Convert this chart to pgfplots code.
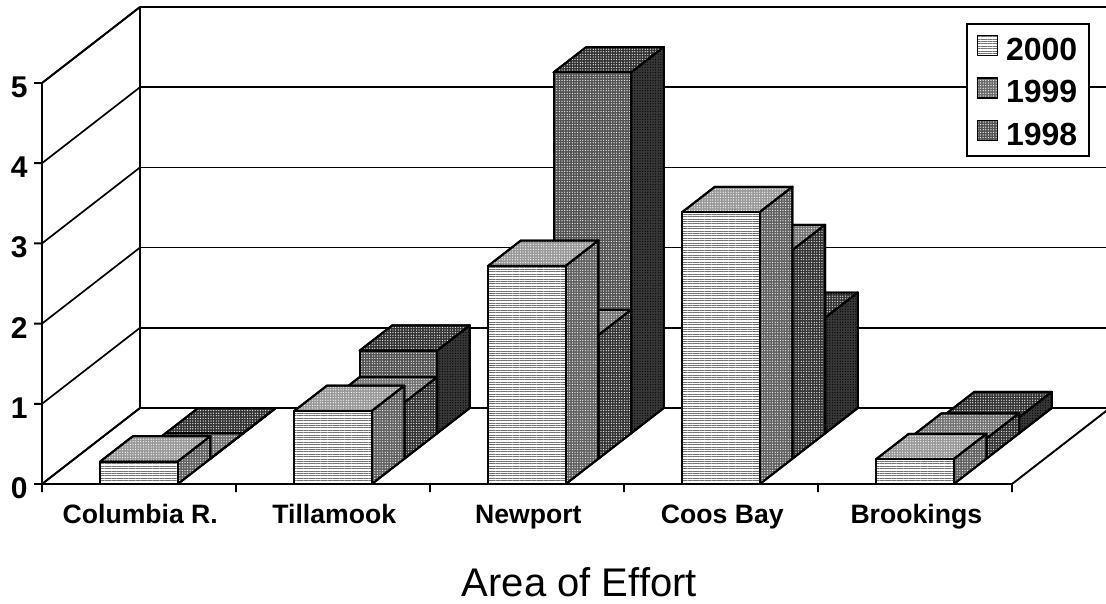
\documentclass[border=0pt]{standalone}
\usepackage{fontspec}
\setmainfont{Liberation Sans}
\usepackage{pgfplots}
\pgfplotsset{compat=1.18}
\usetikzlibrary{patterns.meta}
% x0 x1 y0 y1 h front side top
\newcommand{\Bar}[8]{%
  \addplot3[forget plot,draw=black,line width=2pt,line join=round,#8] coordinates {(#1,#3,#5)(#2,#3,#5)(#2,#4,#5)(#1,#4,#5)} -- cycle;
  \addplot3[forget plot,draw=black,line width=2pt,line join=round,#7] coordinates {(#2,#3,0)(#2,#4,0)(#2,#4,#5)(#2,#3,#5)} -- cycle;
  \addplot3[forget plot,draw=black,line width=2pt,line join=round,#6] coordinates {(#1,#3,0)(#2,#3,0)(#2,#3,#5)(#1,#3,#5)} -- cycle;
}
\pgfplotsset{sq/.style={legend image code/.code={\draw[##1] (0pt,-8pt) rectangle (20pt,12pt);\path (26pt,0pt);}}}
\tikzset{
  stip/.style={preaction={fill=white!#1!black},pattern={Dots[distance=2.6pt,radius=0.62pt,xshift=0.4pt]},pattern color=white},
  dstip/.style={preaction={fill=white!#1!black},pattern={Dots[distance=2.6pt,radius=0.62pt,xshift=0.4pt]},pattern color=black},
  fa/.style={preaction={fill=white},pattern={Lines[angle=0,distance=2.4pt,line width=0.7pt]},pattern color=black!55},
  sa/.style={stip=38},
  ta/.style={stip=60},
  fb/.style={stip=42},
  sb/.style={stip=20},
  tb/.style={stip=45},
  fc/.style={stip=32},
  sc/.style={dstip=22},
  tc/.style={stip=20},
}
\begin{document}
\begin{tikzpicture}
\begin{axis}[
  x={(194pt,0pt)},y={(32.667pt,25.333pt)},z={(0pt,80.2pt)},
  xmin=0,xmax=5,ymin=0,ymax=3,zmin=0,zmax=5,
  clip=false,
  axis line style={draw=none},
  major tick length=0pt,
  xtick=\empty,ytick=\empty,
  extra x ticks={0.5,1.5,2.5,3.5,4.5},
  extra x tick labels={Columbia R.,Tillamook,Newport,Coos Bay,Brookings},
  extra x tick style={grid=none,tick label style={font=\fontsize{26.6}{28}\selectfont\bfseries,yshift=-17pt,xshift=9pt,text height=19pt,text depth=5.5pt}},
  ztick={0,1,2,3,4,5},
  zticklabels={0,1,2,3,4,5},
  ztick style={draw=none},
  zmajorgrids=true,
  grid style={black,line width=1.7pt},
  z tick label style={font=\fontsize{30}{32}\selectfont\bfseries,xshift=-11pt},
  xlabel={Area of Effort},
  every axis x label/.style={at={(axis cs:2.77,0,-1.22)},anchor=center,font=\fontsize{40}{42}\selectfont},
  legend style={at={(axis cs:4.763,0,5.745)},anchor=north west,draw=black,line width=2pt,fill=white,
    font=\fontsize{32}{34}\selectfont\bfseries,inner xsep=9.5pt,inner ysep=7pt,row sep=10pt,
    nodes={text height=27pt}},
  legend cell align=left,
]
\addlegendimage{draw=black,line width=1.5pt,fa,sq}
\addlegendimage{draw=black,line width=1.5pt,fb,sq}
\addlegendimage{draw=black,line width=1.5pt,fc,sq}
\legend{2000,1999,1998}
% frame of the walls and floor
\addplot3[forget plot,black,line width=1.9pt,unbounded coords=jump] coordinates {
 (0,0,0)(0,0,5)(0,3,5)(5,3,5)
 (nan,nan,nan)
 (0,0,0)(5,0,0)(5,3,0)(0,3,0)(0,0,0)
 (nan,nan,nan)
 (0,3,0)(0,3,5)
 (nan,nan,nan)
 (0,0,0)(0,0,-0.1)
 (nan,nan,nan)
 (1,0,0)(1,0,-0.1)
 (nan,nan,nan)
 (2,0,0)(2,0,-0.1)
 (nan,nan,nan)
 (3,0,0)(3,0,-0.1)
 (nan,nan,nan)
 (4,0,0)(4,0,-0.1)
 (nan,nan,nan)
 (5,0,0)(5,0,-0.1)
 (nan,nan,nan)
 (0,0,0)(-0.04,0,0)
 (nan,nan,nan)
 (0,0,1)(-0.04,0,1)
 (nan,nan,nan)
 (0,0,2)(-0.04,0,2)
 (nan,nan,nan)
 (0,0,3)(-0.04,0,3)
 (nan,nan,nan)
 (0,0,4)(-0.04,0,4)
 (nan,nan,nan)
 (0,0,5)(-0.04,0,5)
};
% 1998
\Bar{0.3}{0.7}{2}{3}{0.0}{fc}{sc}{tc}
\Bar{1.3}{1.7}{2}{3}{1.03}{fc}{sc}{tc}
\Bar{2.3}{2.7}{2}{3}{4.5}{fc}{sc}{tc}
\Bar{3.3}{3.7}{2}{3}{1.44}{fc}{sc}{tc}
\Bar{4.3}{4.7}{2}{3}{0.2}{fc}{sc}{tc}
% 1999
\Bar{0.3}{0.7}{1}{2}{0.0}{fb}{sb}{tb}
\Bar{1.3}{1.7}{1}{2}{0.7}{fb}{sb}{tb}
\Bar{2.3}{2.7}{1}{2}{1.54}{fb}{sb}{tb}
\Bar{3.3}{3.7}{1}{2}{2.6}{fb}{sb}{tb}
\Bar{4.3}{4.7}{1}{2}{0.25}{fb}{sb}{tb}
% 2000
\Bar{0.3}{0.7}{0}{1}{0.28}{fa}{sa}{ta}
\Bar{1.3}{1.7}{0}{1}{0.91}{fa}{sa}{ta}
\Bar{2.3}{2.7}{0}{1}{2.72}{fa}{sa}{ta}
\Bar{3.3}{3.7}{0}{1}{3.39}{fa}{sa}{ta}
\Bar{4.3}{4.7}{0}{1}{0.31}{fa}{sa}{ta}
\coordinate (O) at (axis cs:0,0,0);
\end{axis}
\pgfresetboundingbox
\path[use as bounding box] (O) ++(-42pt,-119pt) rectangle ++(1106pt,603pt);
\end{tikzpicture}
\end{document}
